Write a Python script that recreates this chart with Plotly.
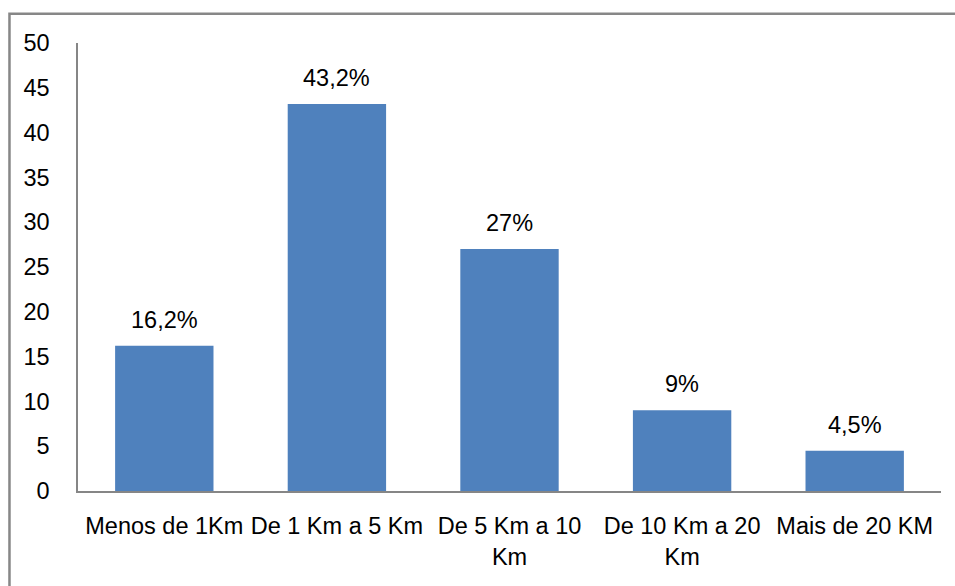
import plotly.graph_objects as go

categories = ["Menos de 1Km", "De 1 Km a 5 Km", "De 5 Km a 10<br>Km", "De 10 Km a 20<br>Km", "Mais de 20 KM"]
values = [16.2, 43.2, 27, 9, 4.5]
labels = ["16,2%", "43,2%", "27%", "9%", "4,5%"]
y_ticks = [0, 5, 10, 15, 20, 25, 30, 35, 40, 45, 50]

FONT = "Liberation Sans"
FS = 23.5
fig = go.Figure()
fig.add_trace(go.Bar(x=categories, y=values, marker=dict(color="#4F81BD", line=dict(width=0)),
                     hoverinfo="skip"))

for c, v, t in zip(categories, values, labels):
    fig.add_annotation(x=c, y=v, text=t, showarrow=False, yanchor="bottom", yshift=11,
                       font=dict(family=FONT, size=FS, color="#000"))

fig.add_shape(type="rect", xref="paper", yref="paper", x0=-0.0794, x1=1.2, y0=-0.5, y1=1.0652,
              line=dict(color="#878787", width=2.5), fillcolor="rgba(0,0,0,0)", layer="above")

fig.update_layout(
    width=955, height=586,
    margin=dict(l=78, r=14, t=43, b=95),
    paper_bgcolor="white", plot_bgcolor="white",
    bargap=0.43, showlegend=False,
    font=dict(family=FONT, size=FS, color="#000"),
)
fig.update_xaxes(showline=True, linecolor="#868686", linewidth=1.5, ticks="", showgrid=False,
                 tickfont=dict(family=FONT, size=FS), ticklabelstandoff=13)
fig.update_yaxes(range=[0, 50], tickvals=y_ticks, showline=True, linecolor="#868686", linewidth=1.5,
                 ticks="", showgrid=False, zeroline=False, tickfont=dict(family=FONT, size=FS),
                 ticklabelstandoff=22)

fig.write_html("out.html")
